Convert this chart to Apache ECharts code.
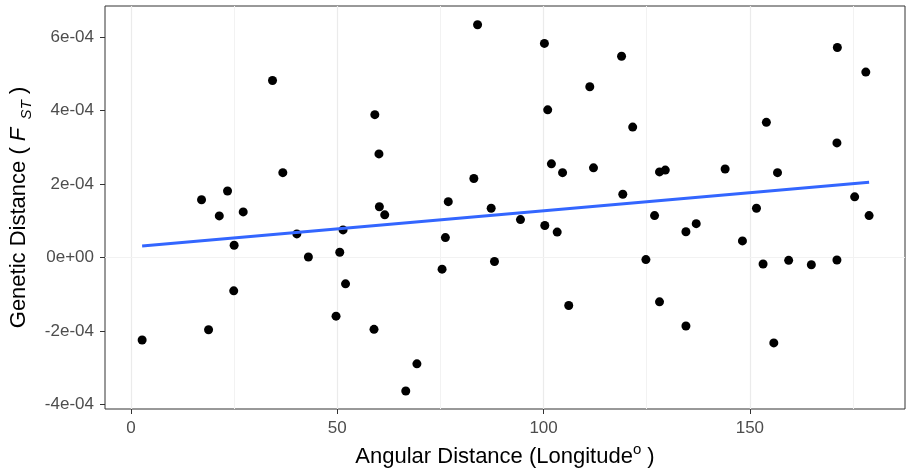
<!DOCTYPE html>
<html>
<head>
<meta charset="utf-8">
<script src="https://cdn.jsdelivr.net/npm/echarts@6/dist/echarts.min.js"></script>
<style>
  html, body { margin: 0; padding: 0; background: #fff; }
  #chart { width: 907px; height: 469px; }
</style>
</head>
<body>
<div id="chart"></div>
<script>
// angular distance (longitude degrees) vs genetic distance (Fst)
const angularDist = [
  2.7, 17.1, 18.8, 21.4, 23.4, 25.0, 24.9, 27.2, 34.3, 36.8,
  40.2, 43.0, 49.7, 50.6, 51.4, 52.0, 58.9, 59.1, 60.1, 60.2,
  61.5, 66.6, 69.3, 75.4, 76.2, 76.9, 83.1, 84.0, 87.3, 88.1,
  94.4, 100.2, 101.0, 101.9, 100.3, 103.3, 104.6, 106.1, 111.2, 112.1,
  118.9, 119.2, 121.6, 124.8, 126.9, 128.1, 129.5, 128.1, 134.5, 134.5,
  137.0, 144.0, 148.2, 151.6, 153.2, 154.0, 155.8, 156.7, 159.4, 164.9,
  171.1, 171.1, 171.2, 175.4, 178.1, 178.9
]
// values in units of 1e-4
const geneticDist = [
  -2.25, 1.57, -1.97, 1.13, 1.81, 0.33, -0.91, 1.24, 4.82, 2.31,
  0.64, 0.01, -1.60, 0.14, 0.75, -0.72, -1.96, 3.89, 2.82, 1.38,
  1.16, -3.64, -2.90, -0.32, 0.54, 1.52, 2.15, 6.34, 1.34, -0.11,
  1.03, 5.83, 4.02, 2.55, 0.87, 0.69, 2.31, -1.31, 4.65, 2.44,
  5.48, 1.72, 3.55, -0.06, 1.14, 2.33, 2.38, -1.21, 0.70, -1.87,
  0.92, 2.41, 0.45, 1.34, -0.18, 3.68, -2.33, 2.31, -0.08, -0.20,
  -0.07, 3.12, 5.72, 1.65, 5.05, 1.14
]
// fitted line ends
const fitX = [2.7, 178.9]
const fitY = [0.31, 2.05]

const xTicks = [0, 50, 100, 150]
const xMinor = [25, 75, 125, 175]
const yTicks = [-4e-4, -2e-4, 0, 2e-4, 4e-4, 6e-4]
const yTickLabels = ['-4e-04', '-2e-04', '0e+00', '2e-04', '4e-04', '6e-04']
const yMinor = [-3e-4, -1e-4, 1e-4, 3e-4, 5e-4]

const FONT = 'Liberation Sans, Arial, Helvetica, sans-serif'
const GRID_C = '#ebebeb'

const points = angularDist.map((x, i) => [x, geneticDist[i] * 1e-4])
const fitLine = fitX.map((x, i) => [x, fitY[i] * 1e-4])

// ggplot-style major / minor grid, drawn through the axes' scales
const gridLines = []
const major = { color: GRID_C, width: 1.2, type: 'solid' }
const minor = { color: '#f2f2f2', width: 1, type: 'solid' }
xTicks.forEach(v => gridLines.push({ xAxis: v, lineStyle: major }))
xMinor.forEach(v => gridLines.push({ xAxis: v, lineStyle: minor }))
yTicks.forEach(v => gridLines.push({ yAxis: v, lineStyle: major }))
yMinor.forEach(v => gridLines.push({ yAxis: v, lineStyle: minor }))

const chart = echarts.init(document.getElementById('chart'))
chart.setOption({
  animation: false,
  backgroundColor: '#fff',
  grid: {
    left: 105, top: 6, right: 2, bottom: 60,
    outerBoundsMode: 'none',
    containLabel: false,
    show: true, borderColor: '#333333', borderWidth: 1, backgroundColor: '#fff'
  },
  xAxis: {
    type: 'value',
    min: -6.3,
    max: 187.6,
    splitLine: { show: false },
    axisLine: { show: false, onZero: false },
    axisTick: { show: true, customValues: xTicks, length: 5, lineStyle: { color: '#333333' } },
    axisLabel: {
      customValues: xTicks, margin: 11,
      color: '#4d4d4d', fontSize: 17, fontFamily: FONT
    },
    name: '{n|Angular Distance (Longitude}{sup|o}{n| )}',
    nameLocation: 'middle',
    nameGap: 27,
    nameTextStyle: {
      color: '#000',
      fontFamily: FONT,
      rich: {
        n: { fontSize: 22, lineHeight: 30, fontFamily: FONT, color: '#000' },
        sup: { fontSize: 15, lineHeight: 15, verticalAlign: 'top', fontFamily: FONT, color: '#000' }
      }
    }
  },
  yAxis: {
    type: 'value',
    min: -4.13e-4,
    max: 6.85e-4,
    splitLine: { show: false },
    axisLine: { show: false, onZero: false },
    axisTick: { show: true, customValues: yTicks, length: 5, lineStyle: { color: '#333333' } },
    axisLabel: {
      customValues: yTicks, margin: 11,
      color: '#4d4d4d', fontSize: 17, fontFamily: FONT,
      formatter: v => {
        const i = yTicks.findIndex(t => Math.abs(t - v) < 1e-9)
        return i >= 0 ? yTickLabels[i] : ''
      }
    },
    name: '{n|Genetic Distance ( }{i|F}{sub|  ST}{n| )}',
    nameLocation: 'middle',
    nameRotate: 90,
    nameGap: 70,
    nameTextStyle: {
      color: '#000',
      fontFamily: FONT,
      rich: {
        n: { fontSize: 22, lineHeight: 30, fontFamily: FONT, color: '#000' },
        i: { fontSize: 22, lineHeight: 30, fontStyle: 'italic', fontFamily: FONT, color: '#000' },
        sub: { fontSize: 15, lineHeight: 15, fontStyle: 'italic', verticalAlign: 'bottom', fontFamily: FONT, color: '#000' }
      }
    }
  },
  series: [
    {
      type: 'scatter',
      z: 1,
      data: [],
      silent: true,
      markLine: {
        z: 1,
        silent: true,
        symbol: 'none',
        label: { show: false },
        animation: false,
        data: gridLines
      }
    },
    {
      type: 'scatter',
      z: 3,
      symbolSize: 9,
      itemStyle: { color: '#000', opacity: 1 },
      data: points
    },
    {
      type: 'line',
      z: 4,
      showSymbol: false,
      symbol: 'none',
      lineStyle: { color: '#3366FF', width: 3 },
      data: fitLine
    }
  ]
})
</script>
</body>
</html>
